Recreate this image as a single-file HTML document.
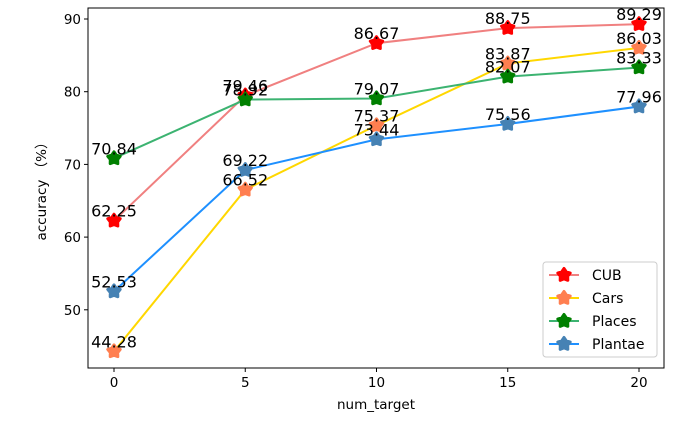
<!DOCTYPE html>
<html><head><meta charset="utf-8"><style>body{margin:0;background:#fff}svg{display:block;font-family:"DejaVu Sans","Liberation Sans",sans-serif}</style></head>
<body>
<svg id="chart" width="695" height="431" xmlns="http://www.w3.org/2000/svg"></svg>
<script>
const categories=[0,5,10,15,20];
const seriesNames=["CUB","Cars","Places","Plantae"];
const cubValues=[62.25,79.46,86.67,88.75,89.29];
const carsValues=[44.28,66.52,75.37,83.87,86.03];
const placesValues=[70.84,78.92,79.07,82.07,83.33];
const plantaeValues=[52.53,69.22,73.44,75.56,77.96];
const yTicks=[50,60,70,80,90];
const xTicks=[0,5,10,15,20];
const NS="http://www.w3.org/2000/svg";
const svg=document.getElementById('chart');
const L=88,R=664,T=8,B=368;
const x=v=>114+(v-0)*(639-114)/20;
const y=v=>19+(90-v)*7.27;
function mk(tag,attrs,parent){const e=document.createElementNS(NS,tag);for(const k in attrs)e.setAttribute(k,attrs[k]);(parent||svg).appendChild(e);return e;}
function star(cx,cy,r,fill,stroke){let p=[];for(let i=0;i<10;i++){const a=-Math.PI/2+i*Math.PI/5;const rr=i%2?r*0.6:r;p.push((cx+rr*Math.cos(a)).toFixed(1)+','+(cy+rr*Math.sin(a)).toFixed(1));}return {points:p.join(' '),fill:fill,stroke:stroke,'stroke-width':3,'stroke-linejoin':'round'};}
const frame=mk('rect',{x:L,y:T,width:R-L,height:B-T,fill:'none',stroke:'#000','stroke-width':1});


yTicks.forEach(t=>{const g=mk('g',{});


mk('line',{x1:L-4,x2:L,y1:y(t),y2:y(t),stroke:'#000'},g);
const tx=mk('text',{x:L-7,y:y(t)+5,'text-anchor':'end','font-size':13.5},g);tx.textContent=t;});
xTicks.forEach(t=>{const g=mk('g',{});


mk('line',{x1:x(t),x2:x(t),y1:B,y2:B+4,stroke:'#000'},g);
const tx=mk('text',{x:x(t),y:B+19,'text-anchor':'middle','font-size':13.5},g);tx.textContent=t;});
const xt=mk('text',{x:376,y:409,'text-anchor':'middle','font-size':13.5});xt.textContent='num_target';


const yt=mk('text',{x:0,y:0,'text-anchor':'middle','font-size':13.5,transform:'translate(46,188) rotate(-90)'});yt.textContent='accuracy （%）';


const series=[[cubValues,'#f08080','#ff0000'],[carsValues,'#ffd700','#ff7f50'],[placesValues,'#3cb371','#008000'],[plantaeValues,'#1e90ff','#4682b4']];
series.forEach((s,si)=>{const g=mk('g',{});


mk('polyline',{points:s[0].map((v,i)=>x(categories[i])+','+y(v)).join(' '),fill:'none',stroke:s[1],'stroke-width':2},g);
s[0].forEach((v,i)=>{const m=mk('polygon',star(x(categories[i]),y(v),6.5,s[2],s[2]),g);

});});
series.forEach((s,si)=>{s[0].forEach((v,i)=>{const t=mk('text',{x:x(categories[i]),y:y(v)-4,'text-anchor':'middle','font-size':16});t.textContent=v.toFixed(2);

});});
const lg=mk('g',{});


mk('rect',{x:543,y:262,width:114,height:95,rx:3,fill:'#fff','fill-opacity':0.85,stroke:'#ccc'},lg);
series.forEach((s,si)=>{const yy=275+si*23;const e=mk('g',{},lg);


mk('line',{x1:549,x2:579,y1:yy,y2:yy,stroke:s[1],'stroke-width':2},e);
mk('polygon',star(564,yy,6.5,s[2],s[2]),e);
const t=mk('text',{x:592,y:yy+5,'font-size':14},e);t.textContent=seriesNames[si];});
</script>
</body></html>
